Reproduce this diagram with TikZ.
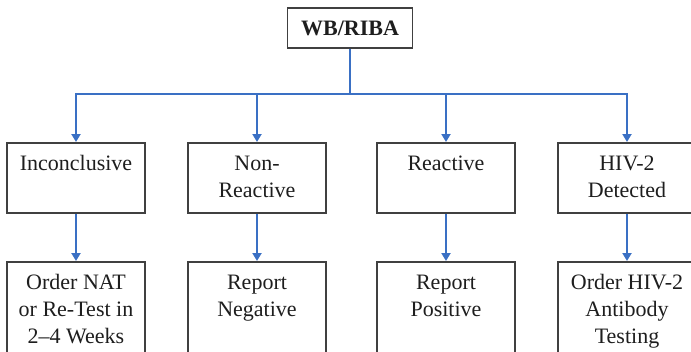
\documentclass[tikz,border=0pt]{standalone}
\usepackage{fontspec}
\setmainfont{Liberation Serif}
\usetikzlibrary{arrows.meta}
\definecolor{flowblue}{RGB}{58,112,196}
\definecolor{boxline}{RGB}{64,64,64}
\definecolor{ink}{RGB}{30,30,30}
\begin{document}
\begin{tikzpicture}[x=1pt,y=-1pt,
  box/.style={draw=boxline, line width=1.8pt, fill=white, text=ink,
    font=\rmfamily\fontsize{22}{27}\selectfont,
    inner xsep=0pt, inner ysep=9pt,
    execute at begin node={\begin{minipage}[t][#1][t]{138pt}\centering\rmfamily\fontsize{22}{27}\selectfont\strut},
    execute at end node={\end{minipage}}},
  box/.default=52pt,
  headbox/.style={draw=boxline, line width=1.8pt, fill=white, text=ink,
    minimum width=125pt, minimum height=40pt, inner sep=0pt,
    font=\rmfamily\fontsize{22}{27}\selectfont\bfseries},
  arr/.style={draw=flowblue, line width=2pt, -{Triangle[width=9pt,length=8pt]}},
  link/.style={draw=flowblue, line width=2pt}]
\useasboundingbox (0,0) rectangle (691,351);
\clip (0,0) rectangle (691,351);

% root
\node[headbox] (wb) at (350,28) {WB/RIBA};

% results
\node[box, anchor=north] (inc) at (76,142)  {Inconclusive};
\node[box, anchor=north] (neg) at (257,142) {Non-\\Reactive};
\node[box, anchor=north] (pos) at (446,142) {Reactive};
\node[box, anchor=north] (hiv) at (627,142) {HIV-2\\Detected};

% follow-up actions
\node[box=90pt, anchor=north] (nat)  at (76,261)  {Order NAT\\or Re-Test in\\2–4 Weeks};
\node[box=90pt, anchor=north] (rneg) at (257,261) {Report\\Negative};
\node[box=90pt, anchor=north] (rpos) at (446,261) {Report\\Positive};
\node[box=90pt, anchor=north] (ab)   at (627,261) {Order HIV-2\\Antibody\\Testing};

% distribution bus
\coordinate (bus) at (350,94);
\draw[link] (wb.south) -- (bus);
\draw[arr] (bus) -| (inc.north);
\draw[arr] (bus) -| (neg.north);
\draw[arr] (bus) -| (pos.north);
\draw[arr] (bus) -| (hiv.north);

% result to action
\draw[arr] (inc.south) -- (nat.north);
\draw[arr] (neg.south) -- (rneg.north);
\draw[arr] (pos.south) -- (rpos.north);
\draw[arr] (hiv.south) -- (ab.north);
\end{tikzpicture}
\end{document}
